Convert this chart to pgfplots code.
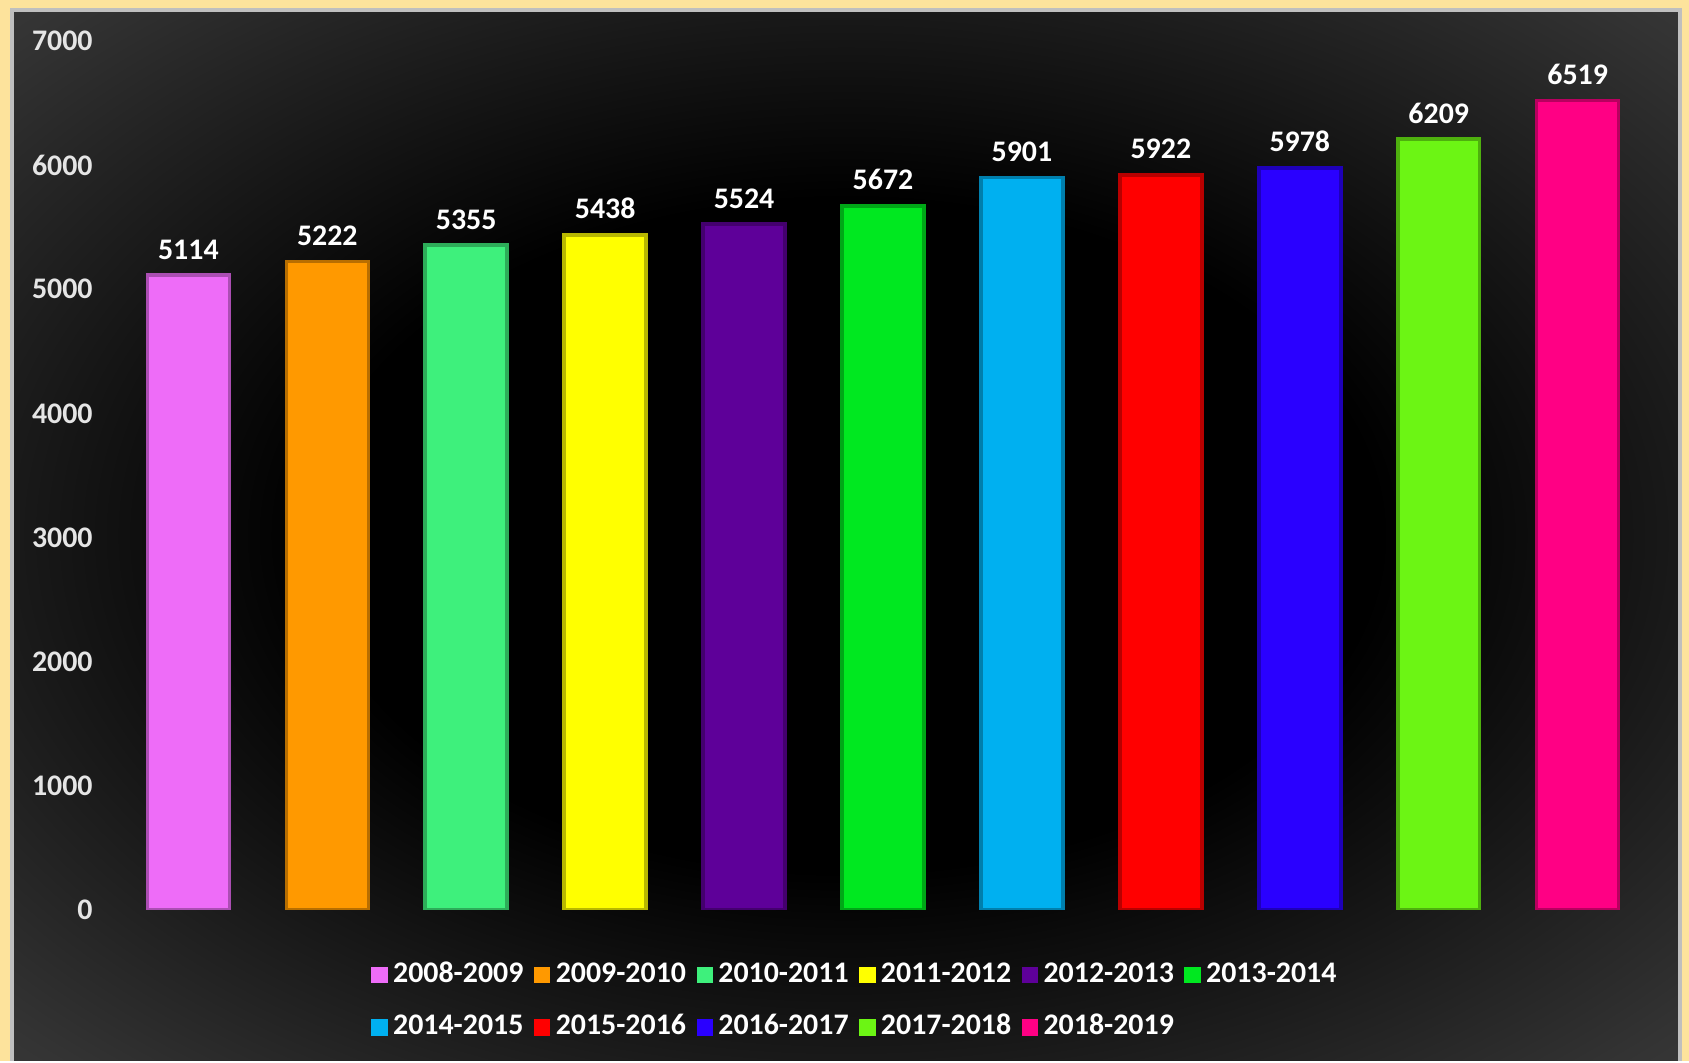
\documentclass[border=0pt]{standalone}
\usepackage{fontspec}
\setmainfont{Carlito}
\usepackage{pgfplots}
\pgfplotsset{compat=1.18}
\definecolor{beige}{HTML}{FDE39C}
\definecolor{cA}{HTML}{EE6CF8}
\definecolor{cB}{HTML}{FF9900}
\definecolor{cC}{HTML}{3EF07C}
\definecolor{cD}{HTML}{FFFF00}
\definecolor{cE}{HTML}{5E0099}
\definecolor{cF}{HTML}{00E820}
\definecolor{cG}{HTML}{00B0F0}
\definecolor{cH}{HTML}{FF0000}
\definecolor{cI}{HTML}{2A00FF}
\definecolor{cJ}{HTML}{6CF514}
\definecolor{cK}{HTML}{FF0084}
\pgfdeclareradialshading{panel}{\pgfpoint{0bp}{0bp}}{%
  color(0bp)=(black); color(16bp)=(black); color(34bp)=(black!80!white);
  color(50bp)=(black!66!white); color(72bp)=(black!56!white)}
\pgfplotsset{
  mybar/.style={ybar, bar width=0.59, bar shift=0pt,
    fill=#1, draw=#1!72!black, line width=1pt,
    legend image code/.code={\fill[#1] (0cm,-0.065cm) rectangle (0.13cm,0.065cm);}},
}
\newcommand{\lbl}{\fontsize{8.5}{10}\selectfont\bfseries}
\begin{document}
\begin{tikzpicture}
  \fill[beige] (0,0) rectangle (16.89,10.61);
  \shade[shading=panel] (0.12,0) rectangle (16.80,10.51);
  \draw[black!25!white, line width=1pt] (0.12,0) -- (0.12,10.51) -- (16.80,10.51) -- (16.80,0);
  \begin{axis}[
      at={(1.05cm,1.51cm)}, anchor=south west,
      scale only axis, width=15.56cm, height=8.69cm,
      xmin=-0.6, xmax=10.6, ymin=0, ymax=7000,
      ytick={0,1000,...,7000}, xtick=\empty,
      axis line style={draw=none}, major tick length=0pt,
      ticklabel style={text=white!90!black, font=\lbl},
      /pgf/number format/assume math mode=true,
      /pgf/number format/set thousands separator={},
      nodes near coords,
      nodes near coords style={text=white, font=\lbl, inner sep=4pt},
      legend columns=6,
      legend style={at={(0.483,-0.045)}, anchor=north, draw=none, fill=none,
        text=white, font=\lbl, row sep=4.5pt,
        /tikz/every even column/.append style={column sep=1.5pt},
        nodes={inner sep=1.5pt}},
    ]
    \addplot[mybar=cA] coordinates {(0,5114)}; \addlegendentry{2008-2009}
    \addplot[mybar=cB] coordinates {(1,5222)}; \addlegendentry{2009-2010}
    \addplot[mybar=cC] coordinates {(2,5355)}; \addlegendentry{2010-2011}
    \addplot[mybar=cD] coordinates {(3,5438)}; \addlegendentry{2011-2012}
    \addplot[mybar=cE] coordinates {(4,5524)}; \addlegendentry{2012-2013}
    \addplot[mybar=cF] coordinates {(5,5672)}; \addlegendentry{2013-2014}
    \addplot[mybar=cG] coordinates {(6,5901)}; \addlegendentry{2014-2015}
    \addplot[mybar=cH] coordinates {(7,5922)}; \addlegendentry{2015-2016}
    \addplot[mybar=cI] coordinates {(8,5978)}; \addlegendentry{2016-2017}
    \addplot[mybar=cJ] coordinates {(9,6209)}; \addlegendentry{2017-2018}
    \addplot[mybar=cK] coordinates {(10,6519)}; \addlegendentry{2018-2019}
  \end{axis}
\end{tikzpicture}
\end{document}
